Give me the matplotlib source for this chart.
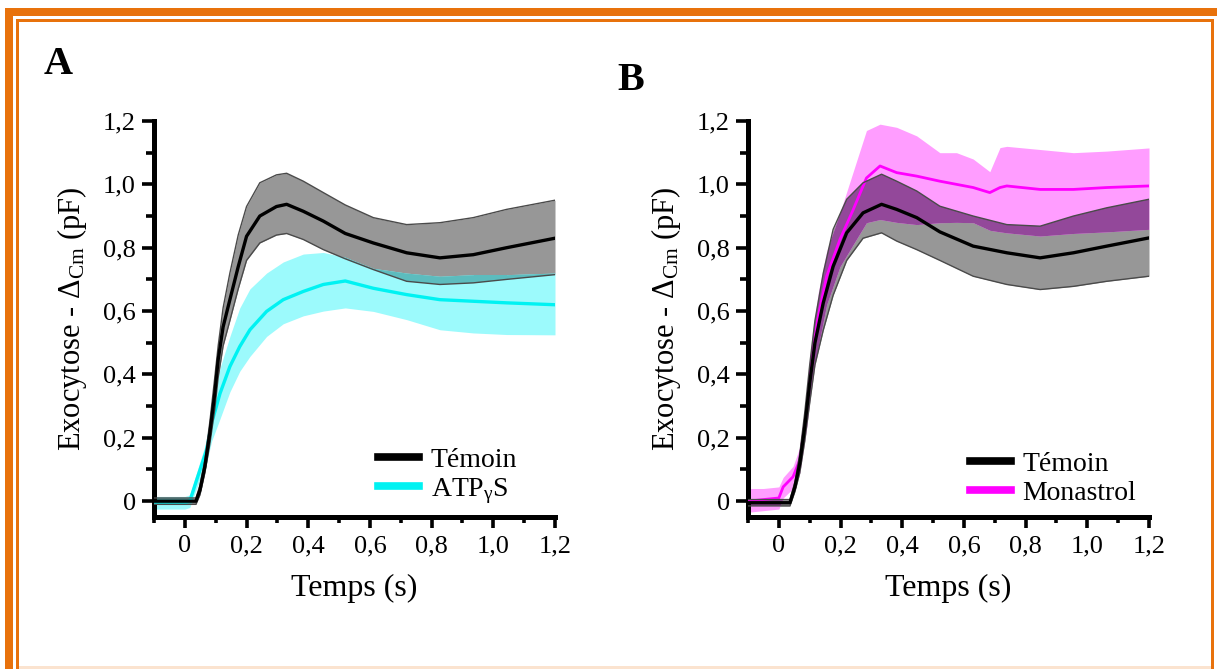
import matplotlib
matplotlib.use('Agg')
import matplotlib.pyplot as plt
from matplotlib.patches import Rectangle
from matplotlib.ticker import MultipleLocator, FuncFormatter

plt.rcParams['font.family'] = ['Liberation Serif', 'DejaVu Serif']
plt.rcParams['mathtext.fontset'] = 'custom'
plt.rcParams['mathtext.rm'] = 'Liberation Serif'
plt.rcParams['mathtext.it'] = 'Liberation Serif:italic'

# --- Panel A : Témoin (mean +/- sem band) ---
t_a_tem = [-0.1, 0.0, 0.036, 0.049, 0.065, 0.081, 0.097, 0.108, 0.124, 0.146, 0.173, 0.20,
           0.243, 0.297, 0.33, 0.384, 0.449, 0.52, 0.611, 0.719, 0.827, 0.935, 1.043, 1.2]
a_tem_mean = [0.0, 0.0, 0.0, 0.035, 0.11, 0.215, 0.34, 0.446, 0.55, 0.636, 0.74, 0.836,
              0.90, 0.93, 0.937, 0.915, 0.884, 0.845, 0.815, 0.784, 0.768, 0.778, 0.80, 0.83]
a_tem_up = [0.01, 0.01, 0.01, 0.05, 0.13, 0.25, 0.39, 0.49, 0.61, 0.72, 0.84, 0.93,
            1.005, 1.03, 1.035, 1.01, 0.974, 0.935, 0.895, 0.873, 0.879, 0.895, 0.921, 0.95]
a_tem_lo = [-0.01, -0.01, -0.01, 0.02, 0.09, 0.18, 0.29, 0.39, 0.49, 0.57, 0.67, 0.76,
            0.815, 0.84, 0.845, 0.826, 0.794, 0.765, 0.731, 0.694, 0.684, 0.689, 0.70, 0.715]

# --- Panel A : ATPγS ---
t_a_atp = [-0.1, 0.0, 0.016, 0.038, 0.07, 0.087, 0.114, 0.146, 0.178, 0.211, 0.265, 0.319,
           0.384, 0.449, 0.52, 0.611, 0.719, 0.827, 0.935, 1.043, 1.2]
a_atp_mean = [-0.005, -0.005, 0.0, 0.066, 0.16, 0.247, 0.34, 0.425, 0.488, 0.541, 0.599, 0.636,
              0.662, 0.684, 0.695, 0.672, 0.652, 0.636, 0.631, 0.626, 0.62]
a_atp_up = [0.015, 0.015, 0.02, 0.09, 0.19, 0.29, 0.42, 0.52, 0.61, 0.67, 0.72, 0.755,
            0.78, 0.785, 0.77, 0.735, 0.72, 0.71, 0.715, 0.715, 0.72]
a_atp_lo = [-0.025, -0.025, -0.02, 0.04, 0.12, 0.19, 0.26, 0.345, 0.41, 0.457, 0.52, 0.56,
            0.585, 0.60, 0.61, 0.599, 0.573, 0.541, 0.531, 0.526, 0.525]

# --- Panel B : Témoin ---
t_b_tem = [-0.1, 0.0, 0.036, 0.052, 0.068, 0.084, 0.10, 0.117, 0.144, 0.176, 0.22, 0.273,
           0.333, 0.382, 0.447, 0.522, 0.63, 0.739, 0.847, 0.955, 1.063, 1.2]
b_tem_mean = [-0.005, -0.005, -0.005, 0.045, 0.12, 0.235, 0.372, 0.50, 0.626, 0.741, 0.847, 0.91,
              0.937, 0.921, 0.895, 0.85, 0.805, 0.784, 0.768, 0.784, 0.805, 0.831]
b_tem_up = [0.005, 0.005, 0.005, 0.06, 0.15, 0.28, 0.43, 0.57, 0.72, 0.858, 0.953, 1.005,
            1.032, 1.01, 0.979, 0.931, 0.90, 0.873, 0.868, 0.90, 0.926, 0.953]
b_tem_lo = [-0.015, -0.015, -0.015, 0.03, 0.09, 0.19, 0.31, 0.43, 0.54, 0.65, 0.76, 0.83,
            0.847, 0.821, 0.794, 0.76, 0.71, 0.684, 0.668, 0.678, 0.694, 0.71]

# --- Panel B : Monastrol ---
t_b_mon = [-0.1, -0.05, 0.0, 0.014, 0.046, 0.068, 0.09, 0.106, 0.128, 0.155, 0.198, 0.241,
           0.284, 0.328, 0.382, 0.447, 0.522, 0.576, 0.63, 0.684, 0.717, 0.739, 0.847, 0.955,
           1.063, 1.2]
b_mon_mean = [0.0, 0.005, 0.01, 0.045, 0.077, 0.13, 0.288, 0.446, 0.583, 0.71, 0.826, 0.92,
              1.02, 1.058, 1.037, 1.026, 1.01, 1.0, 0.99, 0.974, 0.99, 0.995, 0.984, 0.984,
              0.99, 0.995]
b_mon_up = [0.04, 0.04, 0.045, 0.075, 0.11, 0.17, 0.34, 0.51, 0.66, 0.79, 0.91, 1.04,
            1.17, 1.19, 1.18, 1.153, 1.10, 1.10, 1.08, 1.04, 1.116, 1.12, 1.11, 1.10,
            1.105, 1.115]
b_mon_lo = [-0.035, -0.03, -0.025, 0.01, 0.04, 0.09, 0.23, 0.37, 0.49, 0.62, 0.74, 0.81,
            0.879, 0.889, 0.88, 0.873, 0.879, 0.88, 0.879, 0.855, 0.85, 0.847, 0.837, 0.845,
            0.85, 0.858]

W, H = 1217, 669
fig = plt.figure(figsize=(W / 100, H / 100), dpi=100)

GRAY_FILL = '#979797'
GRAY_EDGE = '#4a4a4a'


def px_rect(x0, y0, x1, y1, color):
    # rectangle given in image pixels (origin top-left)
    fig.add_artist(Rectangle((x0 / W, 1 - y1 / H), (x1 - x0) / W, (y1 - y0) / H,
                             transform=fig.transFigure, facecolor=color,
                             edgecolor='none', zorder=0))


# orange frame
ORANGE = '#E8720C'
px_rect(5, 8, W, 16, ORANGE)
px_rect(5, 8, 13, H, ORANGE)
px_rect(16, 19, 1214, 21.5, ORANGE)
px_rect(16, 19, 18.5, H, ORANGE)
px_rect(1211, 19, 1214, H, ORANGE)
px_rect(18.5, 666, 1211, H, '#FBE3CF')


def comma(v, p):
    if abs(v) < 1e-9:
        return '0'
    return f'{v:.1f}'.replace('.', ',')


def style_axes(ax):
    ax.set_xlim(-0.1, 1.2)
    ax.set_ylim(-0.05, 1.2)
    for s in ['top', 'right']:
        ax.spines[s].set_visible(False)
    for s in ['left', 'bottom']:
        ax.spines[s].set_linewidth(3.6)
    ax.xaxis.set_major_locator(MultipleLocator(0.2))
    ax.xaxis.set_minor_locator(MultipleLocator(0.1))
    ax.yaxis.set_major_locator(MultipleLocator(0.2))
    ax.yaxis.set_minor_locator(MultipleLocator(0.1))
    ax.xaxis.set_major_formatter(FuncFormatter(comma))
    ax.yaxis.set_major_formatter(FuncFormatter(comma))
    ax.tick_params(axis='y', which='major', length=9, width=2.6, labelsize=19, pad=4)
    ax.tick_params(axis='y', which='minor', length=6, width=2.6)
    ax.tick_params(axis='x', which='major', length=8, width=2.6, labelsize=19, pad=5)
    ax.tick_params(axis='x', which='minor', length=4, width=2.6)
    ax.set_xlabel('Temps (s)', fontsize=23, labelpad=12)
    ax.set_ylabel('Exocytose - Δ$_{\\mathrm{Cm}}$ (pF)', fontsize=22, labelpad=10)


def band_with_overlap(ax, gray_band, t, lo, up, light, dark):
    # light band; where it sits on the grey band it gets a darker tint
    ax.fill_between(t, lo, up, color=light, lw=0, zorder=2)
    over = ax.fill_between(t, lo, up, color=dark, lw=0, zorder=2.5)
    over.set_clip_path(gray_band.get_paths()[0], ax.transData)


def temoin(ax, t, mean, up, lo):
    band = ax.fill_between(t, lo, up, color=GRAY_FILL, lw=0, zorder=1)
    ax.plot(t, up, color=GRAY_EDGE, lw=1.0, zorder=4)
    ax.plot(t, lo, color=GRAY_EDGE, lw=1.0, zorder=4)
    ax.plot(t, mean, color='black', lw=2.4, zorder=5, label='Témoin')
    return band


ax_a = fig.add_axes([154 / W, 1 - 517 / H, 401 / W, 396 / H])
band_a = temoin(ax_a, t_a_tem, a_tem_mean, a_tem_up, a_tem_lo)
band_with_overlap(ax_a, band_a, t_a_atp, a_atp_lo, a_atp_up, '#9CFAFC', '#5CBCBE')
ax_a.plot(t_a_atp, a_atp_mean, color='#00F2F2', lw=2.4, zorder=3, label='ATP$_{\\mathrm{γ}}$S')
style_axes(ax_a)

ax_b = fig.add_axes([748 / W, 1 - 517 / H, 401 / W, 396 / H])
band_b = temoin(ax_b, t_b_tem, b_tem_mean, b_tem_up, b_tem_lo)
band_with_overlap(ax_b, band_b, t_b_mon, b_mon_lo, b_mon_up, '#FF9DFF', '#93489A')
ax_b.plot(t_b_mon, b_mon_mean, color='#FF00FF', lw=2.0, zorder=3, label='Monastrol')
style_axes(ax_b)

for ax, x0 in [(ax_a, 0.558), (ax_b, 0.553)]:
    leg = ax.legend(loc='lower left', bbox_to_anchor=(x0, 0.028), frameon=False,
                    fontsize=20, handlelength=1.5, handletextpad=0.4,
                    labelspacing=0.12, borderpad=0, borderaxespad=0)
    for line in leg.get_lines():
        line.set_linewidth(5.5)

fig.text(44 / W, 1 - 74 / H, 'A', fontsize=29, fontweight='bold', ha='left', va='baseline')
fig.text(617 / W, 1 - 90 / H, 'B', fontsize=29, fontweight='bold', ha='left', va='baseline')

fig.savefig('out.png', dpi=100)
